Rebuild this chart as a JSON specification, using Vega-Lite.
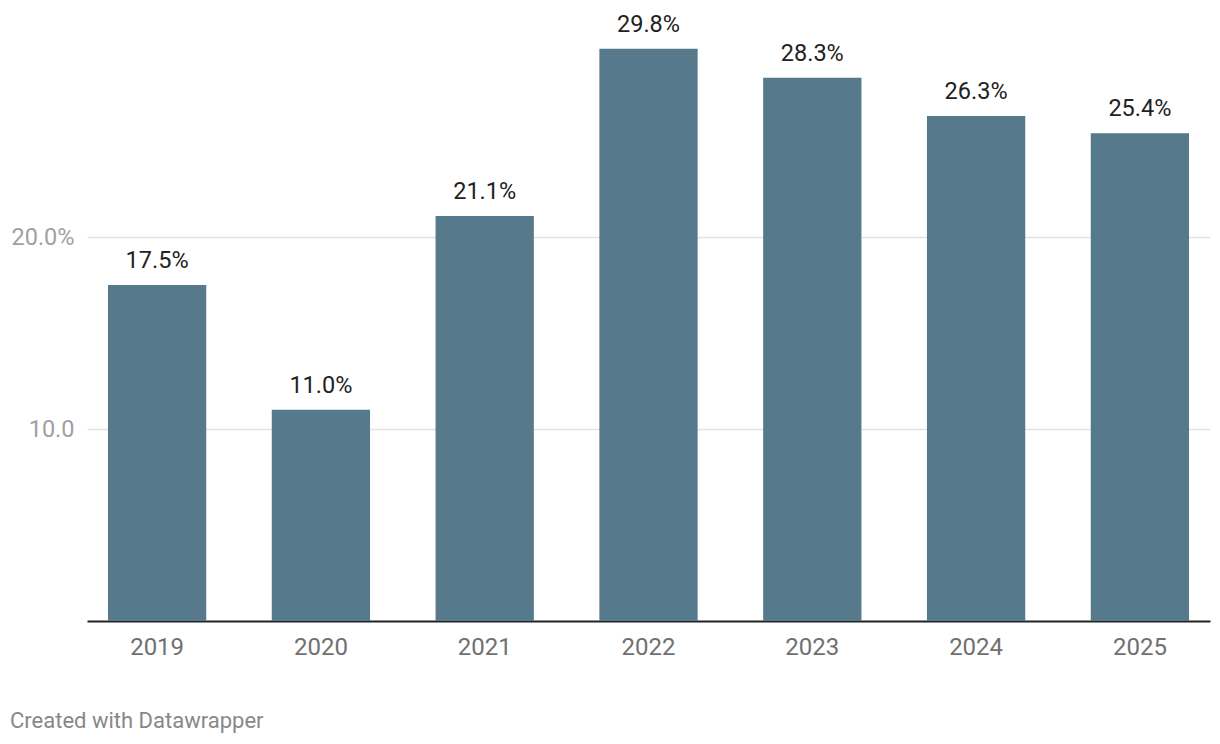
{
  "$schema": "https://vega.github.io/schema/vega-lite/v6.json",
  "autosize": {"type": "none"},
  "padding": {"left": 87, "top": 45, "right": 10, "bottom": 123},
  "width": 1123,
  "height": 576,
  "background": "white",
  "config": {
    "font": "Roboto",
    "view": {"stroke": null}
  },
  "title": {
    "text": "Created with Datawrapper",
    "orient": "bottom",
    "anchor": "start",
    "frame": "group",
    "dx": -77,
    "offset": 52,
    "fontSize": 22,
    "fontWeight": "normal",
    "color": "#888888",
    "font": "Roboto"
  },
  "data": {
    "values": [
      {"year": "2019", "value": 17.5, "label": "17.5%"},
      {"year": "2020", "value": 11.0, "label": "11.0%"},
      {"year": "2021", "value": 21.1, "label": "21.1%"},
      {"year": "2022", "value": 29.8, "label": "29.8%"},
      {"year": "2023", "value": 28.3, "label": "28.3%"},
      {"year": "2024", "value": 26.3, "label": "26.3%"},
      {"year": "2025", "value": 25.4, "label": "25.4%"}
    ]
  },
  "encoding": {
    "x": {
      "field": "year",
      "type": "nominal",
      "sort": null,
      "scale": {"paddingInner": 0.4, "paddingOuter": 0.128},
      "axis": {
        "title": null,
        "labelAngle": 0,
        "labelFontSize": 24,
        "labelColor": "#707070",
        "labelPadding": 14,
        "ticks": false,
        "domainColor": "#222222",
        "domainWidth": 2,
        "grid": false
      }
    },
    "y": {
      "field": "value",
      "type": "quantitative",
      "scale": {"domain": [0, 30], "nice": false},
      "axis": {
        "title": null,
        "values": [10, 20],
        "labelExpr": "datum.value == 20 ? '20.0%' : format(datum.value, '.1f')",
        "labelFontSize": 23.5,
        "labelColor": "#a0a0a0",
        "labelPadding": 13,
        "ticks": false,
        "domain": false,
        "grid": true,
        "gridColor": "#e3e3e3",
        "gridWidth": 1.5
      }
    }
  },
  "layer": [
    {
      "mark": {"type": "bar", "color": "#56798b"}
    },
    {
      "mark": {"type": "text", "baseline": "bottom", "dy": -12, "fontSize": 23.5, "color": "#222222"},
      "encoding": {"text": {"field": "label"}}
    }
  ]
}
